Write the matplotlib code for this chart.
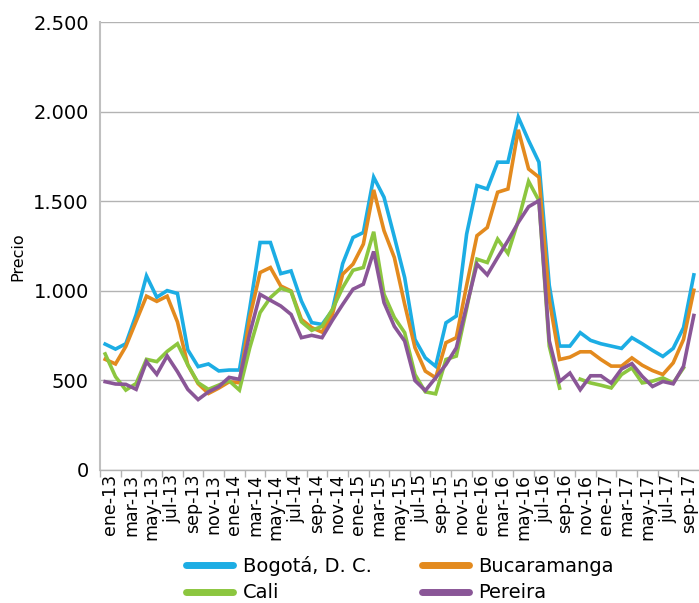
import numpy as np
import matplotlib
matplotlib.use("Agg")
import matplotlib.pyplot as plt

plt.rcParams['font.family'] = ['DejaVu Sans']

# monthly prices, ene-13 .. oct-17 (58 months)
bogota = [701, 673, 703, 866, 1082, 963, 1000, 984, 669, 575, 590, 551, 556, 556,
          900, 1269, 1269, 1095, 1110, 942, 821, 811, 890, 1151, 1297, 1325, 1634, 1522,
          1300, 1073, 727, 624, 577, 820, 858, 1316, 1587, 1568, 1718, 1718, 1970, 1839,
          1718, 1030, 690, 690, 765, 722, 703, 690, 677, 737, 703, 666, 632, 677, 793, 1088]
bucaramanga = [616, 590, 688, 829, 969, 940, 969, 825, 585, 480, 425, 455, 490, 485,
               850, 1101, 1129, 1026, 998, 839, 793, 768, 867, 1092, 1148, 1260, 1563, 1335,
               1185, 924, 681, 550, 513, 709, 737, 1030, 1307, 1353, 1550, 1568, 1899, 1680,
               1634, 950, 615, 628, 658, 658, 615, 578, 578, 624, 583, 553, 531, 596, 727, 1002]
cali = [646, 519, 444, 481, 616, 603, 660, 703, 585, 485, 448, 472, 496, 444,
        680, 877, 961, 1013, 994, 826, 778, 800, 895, 1017, 1114, 1129, 1329, 980,
        850, 765, 531, 434, 423, 615, 634, 900, 1176, 1157, 1288, 1208, 1391, 1611,
        1503, 690, 455, np.nan, 505, 484, 471, 456, 531, 568, 484, 494, 512, 484, 568, np.nan]
pereira = [491, 478, 476, 448, 603, 532, 635, 547, 448, 391, 434, 463, 515, 504,
           760, 979, 946, 914, 867, 737, 750, 737, 834, 923, 1008, 1036, 1219, 933,
           800, 718, 497, 441, 513, 587, 680, 914, 1148, 1088, 1185, 1279, 1381, 1469,
           1503, 720, 492, 539, 446, 524, 524, 483, 562, 592, 521, 464, 492, 479, 577, 861]

tick_labels = ['ene-13', 'mar-13', 'may-13', 'jul-13', 'sep-13', 'nov-13',
               'ene-14', 'mar-14', 'may-14', 'jul-14', 'sep-14', 'nov-14',
               'ene-15', 'mar-15', 'may-15', 'jul-15', 'sep-15', 'nov-15',
               'ene-16', 'mar-16', 'may-16', 'jul-16', 'sep-16', 'nov-16',
               'ene-17', 'mar-17', 'may-17', 'jul-17', 'sep-17']
y_ticks = [0, 500, 1000, 1500, 2000, 2500]
y_labels = ['0', '500', '1.000', '1.500', '2.000', '2.500']

series = [('Bogotá, D. C.', bogota, '#1cade4'),
          ('Bucaramanga', bucaramanga, '#e38a1e'),
          ('Cali', cali, '#8cc63f'),
          ('Pereira', pereira, '#8a5697')]

fig = plt.figure(figsize=(6.99, 6.03), dpi=100)
ax = fig.add_axes([100/699, 1 - 469.5/603, 599/699, (469.5 - 22.3)/603])

x = np.arange(len(bogota))
lines = {}
for name, vals, col in series:
    l, = ax.plot(x, vals, color=col, lw=2.6, label=name, solid_joinstyle='miter')
    lines[name] = l

ax.set_xlim(-0.5, len(bogota) - 0.5)
ax.set_ylim(0, 2500)
ax.set_yticks(y_ticks)
ax.set_yticklabels(y_labels, fontsize=14)
ax.tick_params(axis='y', length=0, pad=8)
ax.yaxis.grid(True, color='#b3b3b3', lw=1)
ax.set_axisbelow(True)

# ticks between every two months, labels centred in each interval
ax.set_xticks(np.arange(-0.5, len(bogota) - 1, 2))
ax.set_xticks(np.arange(0.5, len(bogota), 2), minor=True)
ax.set_xticklabels([])
ax.set_xticklabels(tick_labels, minor=True, rotation=90, fontsize=12.5)
ax.tick_params(axis='x', which='major', length=5, color='#b3b3b3', width=1)
ax.tick_params(axis='x', which='minor', length=0, pad=3)

for s in ['top', 'right']:
    ax.spines[s].set_visible(False)
ax.spines['left'].set_color('#c0c0c0')
ax.spines['left'].set_linewidth(1.5)
ax.spines['bottom'].set_color('#b3b3b3')
ax.spines['bottom'].set_linewidth(1)

fig.text(18/699, 1 - 257/603, 'Precio', rotation=90, fontsize=11.5,
         ha='center', va='center')

order = ['Bogotá, D. C.', 'Cali', 'Bucaramanga', 'Pereira']
leg = fig.legend([lines[n] for n in order], order, ncol=2, loc='center',
                 bbox_to_anchor=(400/699, 1 - 579/603), frameon=False,
                 fontsize=14, handlelength=2.4, handletextpad=0.5,
                 columnspacing=2.6, labelspacing=0.4)
for h in leg.legend_handles:
    h.set_linewidth(5)
    h.set_solid_capstyle('round')

fig.savefig('out.png', dpi=100)
